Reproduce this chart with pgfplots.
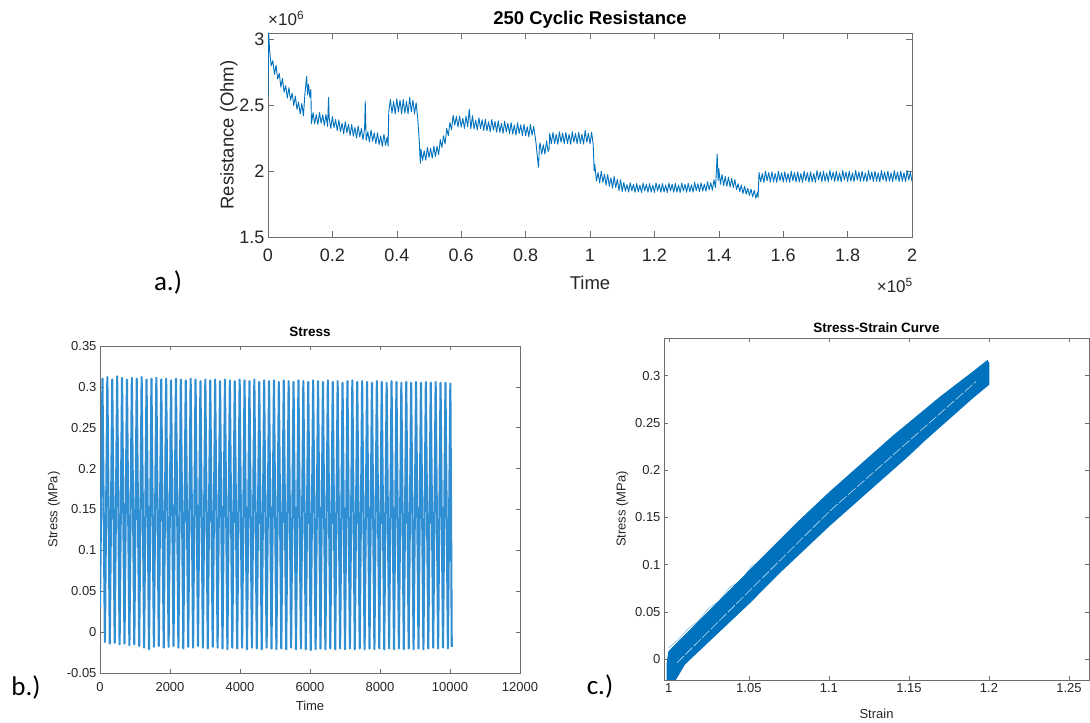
\documentclass[border=0pt]{standalone}
\usepackage{fontspec}
\setmainfont{Liberation Sans}
\newfontfamily\carlito{Carlito}
\usepackage{pgfplots}
\pgfplotsset{compat=1.18}
\definecolor{mblue}{RGB}{0,114,189}
\definecolor{lblue}{RGB}{48,142,210}
\definecolor{axgray}{RGB}{38,38,38}
\definecolor{boxgray}{RGB}{110,110,110}
\pgfplotsset{mystyle/.style={scale only axis,
  axis line style={boxgray, line width=0.7pt},
  tick style={boxgray, line width=0.6pt},
  tick align=inside,
  tick label style={text=axgray},
  label style={text=axgray},
  title style={text=black},
  /pgf/number format/assume math mode=true,
  scaled ticks=false,
  /pgf/number format/1000 sep={},
  clip=true}}
\begin{document}
\begin{tikzpicture}[x=1pt,y=1pt]
\useasboundingbox (0,0) rectangle (1090,723);
% ---------------- Panel a ----------------
\begin{axis}[mystyle, at={(268pt,486pt)}, anchor=south west,
  width=644pt, height=204pt,
  xmin=0, xmax=2, ymin=1.5, ymax=3.05,
  xtick={0,0.2,0.4,0.6,0.8,1,1.2,1.4,1.6,1.8,2},
  xticklabels={0,0.2,0.4,0.6,0.8,1,1.2,1.4,1.6,1.8,2},
  ytick={1.5,2,2.5,3},
  yticklabels={1.5,2,2.5,3},
  major tick length=6pt,
  tick label style={font=\fontsize{18}{20}\selectfont},
  xticklabel style={anchor=base, yshift=-25pt},
  label style={font=\fontsize{18.5}{21}\selectfont},
  xlabel style={yshift=-7pt},
  ylabel style={yshift=-5pt},
  title style={font=\fontsize{18.5}{21}\selectfont\bfseries, yshift=-5pt},
  title={250 Cyclic Resistance},
  xlabel={Time}, ylabel={Resistance (Ohm)},
  ]
\addplot[mblue, line width=0.9pt, line join=round] table {
x y
0 2.55
0.002 3.05
0.005 2.915
0.010 2.80
0.015 2.84
0.020 2.735
0.025 2.805
0.030 2.70
0.035 2.743
0.040 2.638
0.045 2.705
0.050 2.60
0.055 2.65
0.060 2.555
0.065 2.635
0.070 2.54
0.075 2.593
0.080 2.498
0.085 2.57
0.090 2.47
0.095 2.525
0.100 2.435
0.105 2.515
0.110 2.42
0.115 2.60
0.120 2.72
0.123 2.58
0.126 2.66
0.130 2.56
0.133 2.62
0.135 2.36
0.140 2.445
0.145 2.36
0.150 2.43
0.155 2.355
0.160 2.445
0.165 2.365
0.170 2.428
0.175 2.348
0.180 2.43
0.185 2.34
0.188 2.56
0.190 2.405
0.195 2.325
0.200 2.415
0.205 2.33
0.210 2.393
0.215 2.308
0.220 2.39
0.225 2.30
0.230 2.365
0.235 2.285
0.240 2.376
0.245 2.292
0.250 2.356
0.255 2.272
0.260 2.355
0.265 2.266
0.270 2.332
0.275 2.253
0.280 2.344
0.285 2.26
0.290 2.324
0.295 2.24
0.300 2.323
0.302 2.53
0.305 2.234
0.310 2.30
0.315 2.221
0.320 2.312
0.325 2.228
0.330 2.292
0.335 2.208
0.340 2.291
0.345 2.202
0.350 2.268
0.355 2.189
0.360 2.28
0.365 2.196
0.370 2.26
0.373 2.19
0.375 2.448
0.380 2.545
0.385 2.44
0.390 2.53
0.395 2.435
0.400 2.55
0.405 2.45
0.410 2.54
0.415 2.435
0.420 2.545
0.425 2.44
0.430 2.53
0.435 2.435
0.440 2.56
0.445 2.45
0.450 2.54
0.455 2.435
0.460 2.52
0.465 2.40
0.470 2.22
0.473 2.06
0.475 2.165
0.480 2.082
0.485 2.155
0.490 2.083
0.495 2.181
0.500 2.104
0.505 2.175
0.510 2.098
0.515 2.19
0.520 2.11
0.525 2.19
0.530 2.125
0.535 2.24
0.540 2.18
0.545 2.268
0.550 2.208
0.555 2.325
0.560 2.27
0.565 2.37
0.570 2.315
0.575 2.425
0.580 2.35
0.585 2.416
0.590 2.335
0.595 2.42
0.600 2.334
0.605 2.402
0.610 2.325
0.615 2.419
0.620 2.337
0.625 2.47
0.630 2.322
0.635 2.422
0.640 2.321
0.645 2.389
0.650 2.313
0.655 2.406
0.660 2.324
0.665 2.391
0.670 2.309
0.675 2.395
0.680 2.308
0.685 2.376
0.690 2.30
0.695 2.393
0.700 2.312
0.705 2.378
0.710 2.296
0.715 2.382
0.720 2.295
0.725 2.364
0.730 2.287
0.735 2.38
0.740 2.299
0.745 2.365
0.750 2.284
0.755 2.369
0.760 2.282
0.765 2.351
0.770 2.274
0.775 2.368
0.780 2.286
0.785 2.352
0.790 2.271
0.795 2.356
0.800 2.27
0.805 2.338
0.810 2.261
0.815 2.355
0.820 2.273
0.825 2.34
0.830 2.258
0.833 2.20
0.836 2.12
0.840 2.03
0.843 2.19
0.845 2.215
0.850 2.13
0.855 2.20
0.860 2.13
0.865 2.23
0.870 2.15
0.873 2.17
0.875 2.288
0.880 2.208
0.885 2.295
0.890 2.21
0.895 2.28
0.900 2.205
0.905 2.30
0.910 2.22
0.915 2.288
0.920 2.208
0.925 2.295
0.930 2.21
0.935 2.28
0.940 2.205
0.945 2.30
0.950 2.22
0.955 2.288
0.960 2.208
0.965 2.295
0.970 2.21
0.975 2.28
0.980 2.205
0.985 2.31
0.990 2.22
0.995 2.288
1.000 2.208
1.005 2.295
1.010 2.20
1.013 2.00
1.015 2.05
1.020 1.925
1.025 1.99
1.030 1.91
1.035 2.00
1.040 1.915
1.045 1.978
1.050 1.893
1.055 1.975
1.060 1.885
1.065 1.95
1.070 1.87
1.075 1.96
1.080 1.875
1.085 1.938
1.090 1.853
1.095 1.935
1.100 1.845
1.105 1.914
1.110 1.848
1.115 1.898
1.120 1.841
1.125 1.912
1.130 1.851
1.135 1.90
1.140 1.84
1.145 1.906
1.150 1.842
1.155 1.894
1.160 1.838
1.165 1.91
1.170 1.85
1.175 1.90
1.180 1.84
1.185 1.906
1.190 1.842
1.195 1.894
1.200 1.838
1.205 1.91
1.210 1.85
1.215 1.90
1.220 1.84
1.225 1.906
1.230 1.842
1.235 1.894
1.240 1.838
1.245 1.91
1.250 1.85
1.255 1.90
1.260 1.84
1.265 1.906
1.270 1.842
1.275 1.894
1.280 1.838
1.285 1.91
1.290 1.85
1.295 1.90
1.300 1.84
1.305 1.908
1.310 1.844
1.315 1.897
1.320 1.841
1.325 1.914
1.330 1.853
1.335 1.904
1.340 1.845
1.345 1.912
1.350 1.849
1.355 1.902
1.360 1.848
1.365 1.92
1.370 1.858
1.375 1.912
1.380 1.855
1.385 1.935
1.390 1.875
1.395 2.13
1.398 1.93
1.400 2.02
1.405 1.90
1.410 1.975
1.415 1.89
1.420 1.96
1.425 1.885
1.430 1.955
1.435 1.88
1.440 1.945
1.445 1.875
1.450 1.935
1.455 1.86
1.460 1.905
1.465 1.845
1.470 1.895
1.475 1.83
1.480 1.885
1.485 1.825
1.490 1.87
1.495 1.815
1.500 1.865
1.505 1.805
1.510 1.855
1.515 1.795
1.520 1.84
1.522 1.80
1.525 1.99
1.530 1.919
1.535 1.982
1.540 1.915
1.545 2.00
1.550 1.928
1.555 1.989
1.560 1.917
1.565 1.995
1.570 1.919
1.575 1.982
1.580 1.915
1.585 2.00
1.590 1.928
1.595 1.989
1.600 1.917
1.605 1.995
1.610 1.919
1.615 1.982
1.620 1.915
1.625 2.00
1.630 1.928
1.635 1.989
1.640 1.917
1.645 1.995
1.650 1.919
1.655 1.982
1.660 1.915
1.665 2.00
1.670 1.928
1.675 1.989
1.680 1.917
1.685 1.995
1.690 1.919
1.695 1.982
1.700 1.915
1.705 2.005
1.710 1.933
1.715 1.994
1.720 1.922
1.725 2.00
1.730 1.924
1.735 1.987
1.740 1.92
1.745 2.005
1.750 1.933
1.755 1.994
1.760 1.922
1.765 2.00
1.770 1.924
1.775 1.987
1.780 1.92
1.785 2.005
1.790 1.933
1.795 1.994
1.800 1.922
1.805 2.00
1.810 1.924
1.815 1.987
1.820 1.92
1.825 2.005
1.830 1.933
1.835 1.994
1.840 1.922
1.845 2.00
1.850 1.924
1.855 1.987
1.860 1.92
1.865 2.005
1.870 1.933
1.875 1.994
1.880 1.922
1.885 2.00
1.890 1.924
1.895 1.987
1.900 1.92
1.905 2.005
1.910 1.933
1.915 1.994
1.920 1.922
1.925 2.00
1.930 1.924
1.935 1.987
1.940 1.92
1.945 2.005
1.950 1.933
1.955 1.994
1.960 1.922
1.965 2.00
1.970 1.924
1.975 1.987
1.980 1.92
1.985 2.005
1.990 1.933
1.995 1.994
2.000 1.922
};
\end{axis}
\node[anchor=south west, inner sep=0pt, text=axgray, font=\fontsize{17}{20}\selectfont] at (268,697) {×10\textsuperscript{6}};
\node[anchor=south east, inner sep=0pt, text=axgray, font=\fontsize{17}{20}\selectfont] at (913,430) {×10\textsuperscript{5}};
\node[font=\carlito\fontsize{27}{30}\selectfont] at (168,440) {a.)};
% ---------------- Panel b ----------------
\begin{axis}[mystyle, at={(100pt,50pt)}, anchor=south west,
  width=420pt, height=327pt,
  xmin=0, xmax=12000, ymin=-0.05, ymax=0.35,
  xtick={0,2000,4000,6000,8000,10000,12000},
  ytick={-0.05,0,0.05,0.1,0.15,0.2,0.25,0.3,0.35},
  yticklabels={-0.05,0,0.05,0.1,0.15,0.2,0.25,0.3,0.35},
  major tick length=4pt,
  tick label style={font=\fontsize{13}{15}\selectfont},
  xticklabel style={yshift=-6pt},
  label style={font=\fontsize{13}{15}\selectfont},
  xlabel style={yshift=-2pt},
  title style={font=\fontsize{13.5}{15}\selectfont\bfseries},
  title={Stress},
  xlabel={Time}, ylabel={Stress (MPa)},
  ]
\addplot[lblue, line width=2.1pt, line join=round] table {
x y
0 0.030
70 0.310
140 -0.012
210 0.312
280 -0.014
350 0.309
420 -0.013
490 0.313
560 -0.015
630 0.311
700 -0.014
770 0.309
840 -0.016
910 0.311
980 -0.015
1050 0.310
1120 -0.017
1190 0.312
1260 -0.019
1330 0.309
1400 -0.021
1470 0.310
1540 -0.018
1610 0.311
1680 -0.017
1750 0.309
1820 -0.019
1890 0.310
1960 -0.018
2030 0.308
2100 -0.017
2170 0.310
2240 -0.019
2310 0.309
2380 -0.020
2450 0.308
2520 -0.018
2590 0.310
2660 -0.019
2730 0.309
2800 -0.017
2870 0.307
2940 -0.019
3010 0.309
3080 -0.020
3150 0.308
3220 -0.018
3290 0.309
3360 -0.019
3430 0.307
3500 -0.020
3570 0.309
3640 -0.021
3710 0.308
3780 -0.019
3850 0.307
3920 -0.020
3990 0.309
4060 -0.019
4130 0.308
4200 -0.021
4270 0.307
4340 -0.019
4410 0.309
4480 -0.020
4550 0.306
4620 -0.021
4690 0.308
4760 -0.019
4830 0.307
4900 -0.020
4970 0.308
5040 -0.021
5110 0.306
5180 -0.020
5250 0.308
5320 -0.021
5390 0.307
5460 -0.019
5530 0.306
5600 -0.021
5670 0.308
5740 -0.020
5810 0.307
5880 -0.021
5950 0.306
6020 -0.022
6090 0.308
6160 -0.021
6230 0.307
6300 -0.020
6370 0.306
6440 -0.021
6510 0.308
6580 -0.020
6650 0.306
6720 -0.021
6790 0.307
6860 -0.020
6930 0.305
7000 -0.021
7070 0.307
7140 -0.020
7210 0.308
7280 -0.021
7350 0.306
7420 -0.020
7490 0.307
7560 -0.021
7630 0.306
7700 -0.020
7770 0.305
7840 -0.021
7910 0.307
7980 -0.020
8050 0.306
8120 -0.021
8190 0.305
8260 -0.020
8330 0.307
8400 -0.021
8470 0.306
8540 -0.020
8610 0.305
8680 -0.021
8750 0.306
8820 -0.020
8890 0.305
8960 -0.021
9030 0.306
9100 -0.020
9170 0.305
9240 -0.021
9310 0.306
9380 -0.020
9450 0.305
9520 -0.019
9590 0.306
9660 -0.020
9730 0.305
9800 -0.019
9870 0.305
9940 -0.020
10010 0.304
10050 -0.018
};
\end{axis}
\node[font=\carlito\fontsize{27}{30}\selectfont] at (26,36) {b.)};
% ---------------- Panel c ----------------
\begin{axis}[mystyle, at={(664pt,43pt)}, anchor=south west,
  width=425pt, height=342pt,
  xmin=0.997, xmax=1.2625, ymin=-0.022, ymax=0.34,
  xtick={1,1.05,1.1,1.15,1.2,1.25},
  ytick={0,0.05,0.1,0.15,0.2,0.25,0.3},
  yticklabels={0,0.05,0.1,0.15,0.2,0.25,0.3},
  major tick length=4pt,
  tick label style={font=\fontsize{13}{15}\selectfont},
  label style={font=\fontsize{13}{15}\selectfont},
  xlabel style={yshift=-9pt},
  title style={font=\fontsize{13.5}{15}\selectfont\bfseries, yshift=-4pt},
  title={Stress-Strain Curve},
  xlabel={Strain}, ylabel={Stress (MPa)},
  ]
\addplot[mblue!50, line width=0.6pt] table {
x y
1.000 0.012
1.006 0.021
1.012 0.032
1.018 0.040
1.025 0.054
1.031 0.061
1.038 0.076
1.045 0.083
1.052 0.099
1.058 0.104
};
\addplot[draw=mblue, fill=mblue, line width=1pt, line join=round] table {
x y
0.999 -0.004
1.000 0.008
1.010 0.025
1.020 0.042
1.030 0.059
1.040 0.076
1.050 0.093
1.060 0.110
1.070 0.127
1.080 0.144
1.090 0.160
1.100 0.176
1.110 0.191
1.120 0.206
1.130 0.221
1.140 0.236
1.150 0.250
1.160 0.264
1.170 0.278
1.180 0.291
1.190 0.304
1.199 0.316
1.200 0.313
1.200 0.291
1.190 0.277
1.180 0.262
1.170 0.247
1.160 0.232
1.150 0.216
1.140 0.201
1.130 0.186
1.120 0.171
1.110 0.156
1.100 0.141
1.090 0.125
1.080 0.109
1.070 0.093
1.060 0.076
1.050 0.059
1.040 0.043
1.030 0.027
1.020 0.011
1.010 -0.005
1.004 -0.022
0.999 -0.022
0.999 -0.004
} -- cycle;
\addplot[white, opacity=0.75, line width=0.6pt, dash pattern=on 10pt off 2pt] table {
x y
1.005 -0.004
1.100 0.156
1.192 0.294
};
\end{axis}
\node[font=\carlito\fontsize{27}{30}\selectfont] at (600,37) {c.)};
\end{tikzpicture}
\end{document}
